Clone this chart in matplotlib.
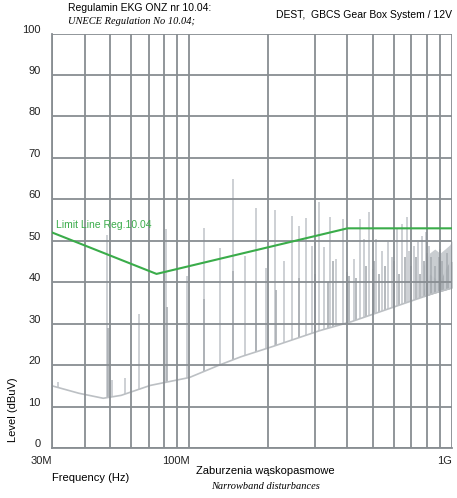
import matplotlib
matplotlib.use("Agg")
import matplotlib.pyplot as plt
import matplotlib.transforms as mtransforms
import numpy as np

# noise floor of the measurement (MHz, dBuV)
floor_freq = [30, 38, 47, 55, 71, 100, 130, 157, 208, 313, 415, 840, 1000]
floor_level = [15.0, 13.2, 12.0, 12.7, 15.1, 17.0, 20.0, 22.0, 24.5, 28.3, 30.5, 37.2, 38.6]

# main narrowband peaks
peak_freq = [31.6, 48.6, 50.8, 57.1, 64.6, 81.2, 97.7, 113.5, 130.7, 146.6,
             162.9, 179.5, 196, 212, 229.7, 246.4, 262, 278.9, 294, 312.6,
             326.7, 344.5, 363, 383, 396.7, 421.9, 445, 461, 481.8, 499,
             512, 540, 569, 590, 616, 644, 673, 685, 716, 742,
             768, 796, 817, 846, 877, 900, 941, 983]
peak_level = [16.0, 51.5, 16.5, 16.8, 32.4, 52.8, 41.5, 53.0, 48.3, 64.8,
              46.3, 57.9, 43.5, 57.4, 45.0, 56.0, 53.5, 55.5, 48.7, 59.3,
              48.5, 55.7, 45.6, 55.2, 42.5, 45.6, 55.2, 50.4, 56.9, 43.2,
              50.4, 47.5, 49.6, 46.0, 52.8, 54.0, 55.7, 47.5, 48.8, 49.6,
              51.2, 52.0, 48.8, 46.4, 47.2, 48.0, 45.2, 48.5]

# lower (darker) components of the peaks
low_freq = [49.2, 82.0, 113.9, 147.0, 180, 213, 262, 300, 338, 352,
            405, 430, 470, 505, 526, 555, 600, 630, 660, 700,
            730, 755, 780, 805, 830, 860, 890, 920, 960]
low_level = [29.0, 34.0, 36.0, 42.7, 40.0, 38.0, 41.0, 42.0, 40.0, 45.0,
             41.5, 41.0, 44.0, 45.0, 42.0, 44.0, 45.0, 42.0, 46.0, 44.0,
             46.0, 42.0, 45.0, 47.0, 46.0, 44.0, 46.0, 45.0, 47.0]

# dense band near 1 GHz
band_freq = [780, 820, 860, 900, 940, 980, 1000]
band_light = [44.0, 47.0, 48.0, 47.0, 48.0, 49.0, 50.0]
band_dark = [38.0, 42.0, 41.0, 40.0, 43.0, 45.0, 45.0]

# UNECE R10 narrowband limit line
limit_freq = [30, 75, 400, 1000]
limit_level = [52, 42, 53, 53]

grid_color = "#888d92"
spike_color = "#c9cdd1"
dark_color = "#a9aeb3"
green = "#3aac4a"

fig = plt.figure(figsize=(4.57, 4.98), dpi=100)
ax = fig.add_axes([0.1138, 0.1004, 0.8752, 0.8323])

ax.set_xscale("log")
ax.set_xlim(30, 1000)
ax.set_ylim(0, 100)

log_ff = np.log10(floor_freq)


def base(freqs):
    return np.interp(np.log10(freqs), log_ff, floor_level)


ax.fill_between(band_freq, base(band_freq), band_light, color=spike_color, lw=0, zorder=2)
ax.fill_between(band_freq, base(band_freq), band_dark, color=dark_color, lw=0, zorder=2)
ax.vlines(peak_freq, base(peak_freq), peak_level, color=spike_color, lw=1.3, zorder=2)
ax.vlines(low_freq, base(low_freq), low_level, color=dark_color, lw=1.2, zorder=2)
ax.plot(floor_freq, floor_level, color="#bcc0c4", lw=1.2, zorder=2)

ax.plot(limit_freq, limit_level, color=green, lw=1.5, zorder=4)
ax.text(31, 53.0, "Limit Line Reg.10.04", color=green, fontsize=7.5,
        family="Liberation Sans", zorder=5)

# grid
major = [30, 100, 1000]
minor = [40, 50, 60, 70, 80, 90, 200, 300, 400, 500, 600, 700, 800, 900]
ax.set_xticks(major)
ax.set_xticklabels(["30M", "100M", "1G"])
ax.set_xticks(minor, minor=True)
ax.set_xticklabels([], minor=True)
ax.set_yticks(np.arange(0, 101, 10))
ax.grid(True, which="both", color=grid_color, lw=1.3, zorder=3)
ax.set_axisbelow(False)
for s in ax.spines.values():
    s.set_color(grid_color)
    s.set_linewidth(1.3)
ax.spines["top"].set_visible(False)
ax.spines["right"].set_visible(False)

ax.tick_params(axis="both", which="both", length=0, labelsize=8, colors="#222222")
ax.tick_params(axis="y", pad=8)
ax.tick_params(axis="x", pad=6)
for lab in ax.get_xticklabels():
    lab.set_horizontalalignment("right")
    lab.set_family("Liberation Sans")
shift = mtransforms.ScaledTranslation(0, 5 / 100, fig.dpi_scale_trans)
for lab in ax.get_yticklabels():
    lab.set_transform(lab.get_transform() + shift)
    lab.set_family("Liberation Sans")

# texts
fig.text(13 / 457, 1 - 410 / 498, "Level (dBuV)", rotation=90, fontsize=8,
         family="Liberation Sans", ha="center", va="center")
fig.text(52 / 457, 1 - 478 / 498, "Frequency (Hz)", fontsize=8,
         family="Liberation Sans", ha="left", va="center")
fig.text(265 / 457, 1 - 471 / 498, "Zaburzenia wąskopasmowe", fontsize=8,
         family="Liberation Sans", ha="center", va="center")
fig.text(265 / 457, 1 - 486 / 498, "Narrowband disturbances", fontsize=7.5,
         family="Liberation Serif", style="italic", ha="center", va="center")
fig.text(68 / 457, 1 - 8 / 498, "Regulamin EKG ONZ nr 10.04:", fontsize=7.5,
         family="Liberation Sans", ha="left", va="center")
fig.text(68 / 457, 1 - 22 / 498, "UNECE Regulation No 10.04;", fontsize=7.5,
         family="Liberation Serif", style="italic", ha="left", va="center")
fig.text(452 / 457, 1 - 15 / 498, "DEST,  GBCS Gear Box System / 12V", fontsize=7.5,
         family="Liberation Sans", ha="right", va="center")

fig.savefig("out.png", dpi=100)
